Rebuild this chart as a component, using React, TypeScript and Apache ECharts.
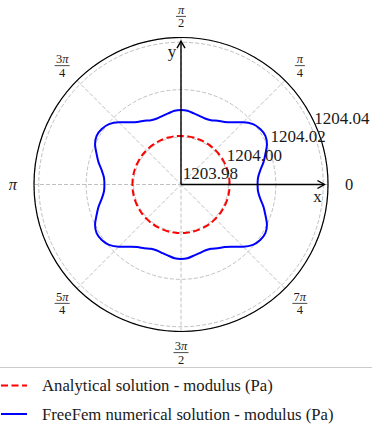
import React, { useEffect, useRef } from "react";
import * as echarts from "echarts";

// ---- data ----
const seriesNames = [
  "Analytical solution - modulus (Pa)",
  "FreeFem numerical solution - modulus (Pa)",
];

// polar angles (degrees) at which the moduli were read
const thetaDeg = [
  0, 5, 10, 15, 20, 25, 30, 35, 40, 45, 50, 55, 60, 65, 70, 75, 80, 85,
  90, 95, 100, 105, 110, 115, 120, 125, 130, 135, 140, 145, 150, 155, 160, 165, 170, 175,
  180, 185, 190, 195, 200, 205, 210, 215, 220, 225, 230, 235, 240, 245, 250, 255, 260, 265,
  270, 275, 280, 285, 290, 295, 300, 305, 310, 315, 320, 325, 330, 335, 340, 345, 350, 355, 360,
];

// analytical modulus (constant circle)
const analyticalModulus = 1204.0005;

// FreeFem numerical modulus, one value per angle above
const freefemModulus = [
  1204.0123, 1204.0126, 1204.0139, 1204.016, 1204.0179, 1204.02, 1204.0211, 1204.0208, 1204.0196,
  1204.0171, 1204.0143, 1204.0122, 1204.011, 1204.0099, 1204.0096, 1204.01, 1204.0105, 1204.0112,
  1204.0114, 1204.0112, 1204.0105, 1204.01, 1204.0096, 1204.0099, 1204.011, 1204.0122, 1204.0143,
  1204.0171, 1204.0196, 1204.0208, 1204.0211, 1204.02, 1204.0179, 1204.016, 1204.0139, 1204.0126,
  1204.0123, 1204.0126, 1204.0139, 1204.016, 1204.0179, 1204.02, 1204.0211, 1204.0208, 1204.0196,
  1204.0171, 1204.0143, 1204.0122, 1204.011, 1204.0099, 1204.0096, 1204.01, 1204.0105, 1204.0112,
  1204.0114, 1204.0112, 1204.0105, 1204.01, 1204.0096, 1204.0099, 1204.011, 1204.0122, 1204.0143,
  1204.0171, 1204.0196, 1204.0208, 1204.0211, 1204.02, 1204.0179, 1204.016, 1204.0139, 1204.0126,
  1204.0123,
];

// radial axis
const radiusMin = 1203.98;
const radiusMax = 1204.042;
const radiusStep = 0.02;
const radiusTickLabels = ["1203.98", "1204.00", "1204.02", "1204.04"];

// angular tick labels (numerator / denominator of multiples of pi)
const angleTicksDeg = [0, 45, 90, 135, 180, 225, 270, 315];
const angleTickNum = ["0", "π", "π", "3π", "π", "5π", "3π", "7π"];
const angleTickDen = ["", "4", "2", "4", "", "4", "2", "4"];

const FAMILY = "Liberation Serif";
const TEXT = "#1a1a1a";

export default function App() {
  const ref = useRef<HTMLDivElement>(null);

  useEffect(() => {
    if (!ref.current) return;
    const chart = echarts.init(ref.current, null, { renderer: "svg" });
    const center = [181, 184.5];
    const radius = 147;

    const grid = { color: "#b0b0b0", width: 0.8, type: [4, 2] as number[] };

    chart.setOption({
      animation: false,
      polar: [
        { center, radius },
        { center, radius },
      ],
      angleAxis: [
        {
          polarIndex: 0,
          type: "value",
          min: 0,
          max: 360,
          interval: 45,
          startAngle: 0,
          clockwise: false,
          z: 3,
          axisLine: { show: true, lineStyle: { color: "#000", width: 1.2 } },
          axisTick: { show: false },
          axisLabel: { show: false },
          splitLine: { show: true, lineStyle: grid },
        },
        {
          polarIndex: 1,
          type: "value",
          min: 22.5,
          max: 382.5,
          startAngle: 22.5,
          clockwise: false,
          axisLine: { show: false },
          axisTick: { show: false },
          axisLabel: { show: false },
          splitLine: { show: false },
        },
      ],
      radiusAxis: [
        {
          polarIndex: 0,
          type: "value",
          min: radiusMin,
          max: radiusMax,
          interval: radiusStep,
          z: 1,
          axisLine: { show: false },
          axisTick: { show: false },
          axisLabel: { show: false },
          splitLine: { show: true, lineStyle: grid },
        },
        {
          polarIndex: 1,
          type: "value",
          min: radiusMin,
          max: radiusMax,
          interval: radiusStep,
          z: 4,
          axisLine: { show: false },
          axisTick: { show: false },
          splitLine: { show: false },
          axisLabel: {
            show: true,
            showMinLabel: true,
            showMaxLabel: true,
            margin: 3,
            padding: [0, 0, 0, 3],
            align: "left",
            verticalAlign: "bottom",
            fontFamily: FAMILY,
            fontSize: 17,
            color: TEXT,
            formatter: (v: number) => {
              const hit = radiusTickLabels.find((s) => Math.abs(parseFloat(s) - v) < 1e-6);
              return hit || "";
            },
          },
        },
      ],
      legend: {
        orient: "vertical",
        left: 0,
        top: 377,
        padding: 0,
        itemWidth: 26,
        itemHeight: 14,
        itemGap: 11.5,
        data: seriesNames,
        itemStyle: { opacity: 0 },
        textStyle: { fontFamily: FAMILY, fontSize: 16.7, color: TEXT, padding: [0, 0, 0, 10] },
      },
      series: [
        {
          name: seriesNames[0],
          type: "line",
          coordinateSystem: "polar",
          polarIndex: 0,
          symbol: "none",
          smooth: true,
          clip: false,
          data: thetaDeg.map((t) => [analyticalModulus, t]),
          itemStyle: { color: "#ff0000" },
          lineStyle: { color: "#ff0000", width: 2, type: [7, 3.5] },
        },
        {
          name: seriesNames[1],
          type: "line",
          coordinateSystem: "polar",
          polarIndex: 0,
          symbol: "none",
          smooth: 0.3,
          clip: false,
          data: thetaDeg.map((t, i) => [freefemModulus[i], t]),
          itemStyle: { color: "#0000ff" },
          lineStyle: { color: "#0000ff", width: 2 },
        },
      ],
    });

    const pt = (r: number, a: number): number[] => {
      const p = chart.convertToPixel({ seriesIndex: 0 } as any, [r, a]) as any;
      if (p && p.length === 2) return p;
      const rr = ((r - radiusMin) / (radiusMax - radiusMin)) * radius;
      return [center[0] + rr * Math.cos((a * Math.PI) / 180), center[1] - rr * Math.sin((a * Math.PI) / 180)];
    };

    const elements: any[] = [];
    // legend frame
    elements.push({
      type: "rect",
      z: 0,
      shape: { x: -6, y: 367.5, width: 400, height: 80, r: 4 },
      style: { fill: "rgba(255,255,255,0.8)", stroke: "#cccccc", lineWidth: 1 },
    });

    const tStyle = (text: string, size: number, italic = false) => ({
      text,
      fontFamily: FAMILY,
      fontSize: size,
      fontStyle: italic ? "italic" : "normal",
      fill: TEXT,
      align: "center",
      verticalAlign: "middle",
      textAlign: "center",
      textVerticalAlign: "middle",
    });

    // angular labels
    const labelR = 1204.0509;
    const fracSize = 12.5;
    angleTicksDeg.forEach((deg, i) => {
      const p = pt(labelR, deg);
      const num = angleTickNum[i];
      const den = angleTickDen[i];
      if (!den) {
        elements.push({ type: "text", x: p[0], y: p[1], style: tStyle(num, 16.5, num === "π") });
      } else {
        const w = num.length > 1 ? 15 : 10;
        const coef = num.slice(0, -1);
        elements.push({
          type: "group",
          x: p[0],
          y: p[1],
          children: [
            {
              type: "text",
              x: 0,
              y: -6.5,
              style: {
                ...tStyle((coef ? `{c|${coef}}` : "") + "{p|π}", fracSize),
                rich: {
                  c: { fontFamily: FAMILY, fontSize: fracSize, fill: TEXT },
                  p: { fontFamily: FAMILY, fontSize: fracSize, fontStyle: "italic", fill: TEXT },
                },
              },
            },
            {
              type: "line",
              shape: { x1: -w / 2, y1: 0, x2: w / 2, y2: 0 },
              style: { stroke: TEXT, lineWidth: 0.8 },
            },
            { type: "text", x: 0, y: 7, style: tStyle(den, fracSize) },
          ],
        });
      }
    });

    // x / y arrows
    const o = pt(radiusMin, 0);
    const tx = pt(1204.0405, 0);
    const ty = pt(1204.0405, 90);
    const arrow = { stroke: "#000", lineWidth: 1.4, fill: "none" };
    elements.push(
      { type: "line", z: 5, shape: { x1: o[0], y1: o[1], x2: tx[0], y2: tx[1] }, style: arrow },
      {
        type: "polyline",
        z: 5,
        shape: { points: [[tx[0] - 7, tx[1] - 4], [tx[0], tx[1]], [tx[0] - 7, tx[1] + 4]] },
        style: arrow,
      },
      { type: "line", z: 5, shape: { x1: o[0], y1: o[1], x2: ty[0], y2: ty[1] }, style: arrow },
      {
        type: "polyline",
        z: 5,
        shape: { points: [[ty[0] - 4, ty[1] + 7], [ty[0], ty[1]], [ty[0] + 4, ty[1] + 7]] },
        style: arrow,
      },
      { type: "text", z: 5, x: tx[0] - 7, y: tx[1] + 12, style: tStyle("x", 17) },
      { type: "text", z: 5, x: ty[0] - 9, y: ty[1] + 10, style: tStyle("y", 17) }
    );

    chart.setOption({ graphic: elements });

    return () => chart.dispose();
  }, []);

  return (
    <div
      ref={ref}
      style={{ position: "absolute", left: 0, top: 0, width: 372, height: 426, background: "#fff" }}
    />
  );
}
